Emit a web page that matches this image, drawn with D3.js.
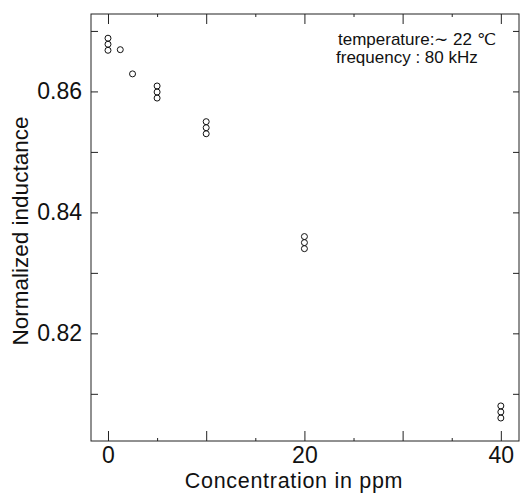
<!DOCTYPE html>
<html>
<head>
<meta charset="utf-8">
<script src="https://cdn.jsdelivr.net/npm/d3@7"></script>
<style>
  body { margin: 0; background: #fff; }
  svg { font-family: "Liberation Sans", Arial, sans-serif; }
  .axis path { display: none; }
  .axis line { stroke: #222; stroke-width: 1; }
  .axis text { fill: #111; }
</style>
</head>
<body>
<svg id="chart" width="524" height="500"></svg>
<script>
// data
var concentration = [0, 0, 0, 1.25, 2.5, 5, 5, 5, 10, 10, 10, 20, 20, 20, 40, 40, 40];
var inductance = [0.8688, 0.8678, 0.8668, 0.8669, 0.8629, 0.8609, 0.8599, 0.8589,
                  0.8550, 0.8540, 0.8530, 0.8360, 0.8350, 0.8340, 0.8080, 0.8070, 0.8060];
var xMajor = [0, 10, 20, 30, 40];
var xMinor = [5, 15, 25, 35];
var xLabels = [0, 20, 40];
var yTicks = [0.81, 0.82, 0.83, 0.84, 0.85, 0.86, 0.87];
var yLabels = [0.82, 0.84, 0.86];
var notes = ["temperature:\u223C 22 \u2103", "frequency : 80 kHz"];

var svg = d3.select("#chart");
var margin = {top: 14, right: 5, bottom: 59, left: 91};
var width = +svg.attr("width") - margin.left - margin.right;
var height = +svg.attr("height") - margin.top - margin.bottom;

var x = d3.scaleLinear().domain([-1.73, 41.85]).range([0, width]);
var y = d3.scaleLinear().domain([0.8022, 0.8728]).range([height, 0]);

var g = svg.append("g")
    .attr("transform", "translate(" + margin.left + "," + margin.top + ")");

// frame
g.append("rect")
    .attr("width", width).attr("height", height)
    .attr("fill", "none").attr("stroke", "#222").attr("stroke-width", 1);

// bottom axis
g.append("g")
    .attr("class", "axis")
    .attr("transform", "translate(0," + height + ")")
    .call(d3.axisBottom(x).tickValues(xMajor).tickSize(-10).tickPadding(6)
      .tickFormat(function(d) { return xLabels.indexOf(d) >= 0 ? d : ""; }))
    .selectAll("text").attr("font-size", 23);
g.append("g")
    .attr("class", "axis")
    .attr("transform", "translate(0," + height + ")")
    .call(d3.axisBottom(x).tickValues(xMinor).tickSize(-3).tickFormat(""));

// top axis
g.append("g")
    .attr("class", "axis")
    .call(d3.axisTop(x).tickValues(xMajor).tickSize(-10).tickFormat(""));
g.append("g")
    .attr("class", "axis")
    .call(d3.axisTop(x).tickValues(xMinor).tickSize(-3).tickFormat(""));

// left axis
g.append("g")
    .attr("class", "axis")
    .call(d3.axisLeft(y).tickValues(yTicks).tickSize(-7).tickPadding(9)
      .tickFormat(function(d) { return yLabels.indexOf(d) >= 0 ? d3.format(".2f")(d) : ""; }))
    .selectAll("text").attr("font-size", 23);

// right axis
g.append("g")
    .attr("class", "axis")
    .attr("transform", "translate(" + width + ",0)")
    .call(d3.axisRight(y).tickValues(yTicks).tickSize(-6).tickFormat(""));

// points
g.selectAll(".pt")
    .data(concentration)
  .enter().append("circle")
    .attr("class", "pt")
    .attr("cx", function(d) { return x(d); })
    .attr("cy", function(d, i) { return y(inductance[i]); })
    .attr("r", 3)
    .attr("fill", "none")
    .attr("stroke", "#111")
    .attr("stroke-width", 1);

// notes
g.selectAll(".note")
    .data(notes)
  .enter().append("text")
    .attr("class", "note")
    .attr("x", function(d, i) { return i === 0 ? 247 : 245; })
    .attr("y", function(d, i) { return 31 + i * 18; })
    .attr("font-size", 17)
    .attr("fill", "#111")
    .text(function(d) { return d; });

// axis titles
svg.append("text")
    .attr("x", 294)
    .attr("y", 488)
    .attr("text-anchor", "middle")
    .attr("font-size", 21.5)
    .attr("letter-spacing", 0.7)
    .attr("fill", "#111")
    .text("Concentration in ppm");

svg.append("text")
    .attr("transform", "translate(28," + 231 + ") rotate(-90)")
    .attr("text-anchor", "middle")
    .attr("font-size", 22.5)
    .attr("fill", "#111")
    .text("Normalized inductance");
</script>
</body>
</html>
